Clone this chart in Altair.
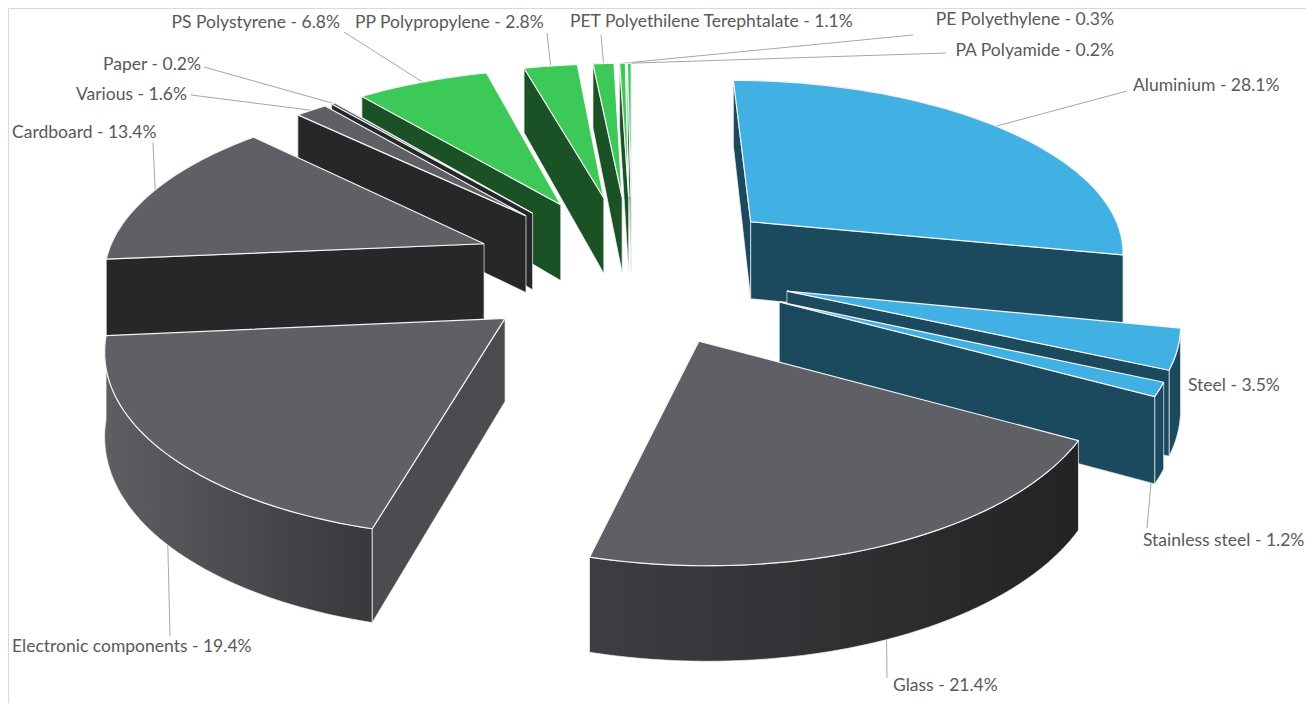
import math
import altair as alt
import pandas as pd

# ---------------- data ----------------
categories = [
    "Aluminium", "Steel", "Stainless steel", "Glass", "Electronic components",
    "Cardboard", "Various", "Paper", "PS Polystyrene", "PP Polypropylene",
    "PET Polyethilene Terephtalate", "PE Polyethylene", "PA Polyamide",
]
shares = [28.1, 3.5, 1.2, 21.4, 19.4, 13.4, 1.6, 0.2, 6.8, 2.8, 1.1, 0.3, 0.2]

# ---------------- styles ----------------
BLUE_TOP, BLUE_SIDE = "#41B0E3", "#1B4A5E"
GRAY_TOP = "#5F6065"
DARK_GRAY = "#262729"
GREEN_TOP, GREEN_SIDE = "#3DC958", "#1A5226"
EDGE = "#F4F4F4"


def grad(c0, c1):
    return alt.Gradient(gradient="linear", x1=0, x2=1, y1=0, y2=0,
                        stops=[alt.GradientStop(color=c0, offset=0),
                               alt.GradientStop(color=c1, offset=1)])


group = {
    "Aluminium": "blue", "Steel": "blue", "Stainless steel": "blue",
    "Glass": "gray", "Electronic components": "gray", "Cardboard": "gray",
    "Various": "gray", "Paper": "gray",
    "PS Polystyrene": "green", "PP Polypropylene": "green",
    "PET Polyethilene Terephtalate": "green", "PE Polyethylene": "green",
    "PA Polyamide": "green",
}
top_color = {"blue": BLUE_TOP, "gray": GRAY_TOP, "green": GREEN_TOP}
band_color = {"blue": BLUE_SIDE, "gray": DARK_GRAY, "green": GREEN_SIDE}
wall_color = {"blue": BLUE_SIDE, "gray": DARK_GRAY, "green": GREEN_SIDE}
band_override = {
    "Glass": grad("#3E3E42", "#232326"),
    "Electronic components": grad("#5E5E63", "#38383C"),
}
wall_override = {"Electronic components": "#4B4B50", "Glass": "#2C2C2F"}

# label layout (annotation positions in the chart's coordinate space)
label_x = [1133, 1188, 1143, 893, 12, 12, 187, 201, 340, 355, 570, 1114, 1114]
label_y = [86, 386, 541, 686, 647, 133, 95, 65, 23, 23, 22, 20, 51]
label_align = ["left", "left", "left", "left", "left", "left", "right", "right",
               "right", "left", "left", "right", "right"]
leader_x = [1127, None, 1147, 887, 170, 153, 191, 204, 344, 547, 601, 913, 946]
leader_y = [91, None, 528, 678, 636, 143, 95, 67, 32, 33, 35, 35, 53]

# ---------------- projection parameters ----------------
CX, CY = 632, 268      # pie centre
A, B = 380, 180        # horizontal / vertical radius
P = 0.14               # perspective
E = 0.42               # explosion
DP = 80                # thickness
N = 48                 # arc resolution

df = pd.DataFrame({
    "cat": categories, "val": shares, "idx": list(range(len(categories))),
    "lx": label_x, "ly": label_y, "align": label_align,
    "ex": leader_x, "ey": leader_y,
})

XS = alt.Scale(domain=[8, 1306], nice=False, zero=False)
YS = alt.Scale(domain=[8, 703], nice=False, zero=False, reverse=True)


def PX(U, V):
    return f"({CX}+{A}*({U})*(1+{P}*({V})))"


def PY(V, h):
    return f"({CY}+({B}*({V})+{DP}*({h}))*(1+{P}*({V})))"


def base():
    return (
        alt.Chart(df)
        .transform_joinaggregate(total="sum(val)")
        .transform_window(cum="sum(val)", sort=[alt.SortField("idx")], frame=[None, 0])
        .transform_calculate(
            a0="2*PI*(datum.cum-datum.val)/datum.total",
            a1="2*PI*datum.cum/datum.total",
        )
        .transform_calculate(mid="(datum.a0+datum.a1)/2")
        .transform_calculate(eu=f"{E}*sin(datum.mid)", ev=f"-{E}*cos(datum.mid)")
    )


def enc(ch, extra=None):
    e = dict(
        x=alt.X("px:Q", scale=XS, axis=None),
        y=alt.Y("py:Q", scale=YS, axis=None),
        order=alt.Order("j:Q"),
    )
    if extra:
        e.update(extra)
    return ch.encode(**e)


def project(ch, h="0"):
    return (
        ch.transform_calculate(U="datum.eu+datum.r*sin(datum.a)",
                               V="datum.ev-datum.r*cos(datum.a)")
        .transform_calculate(px=PX("datum.U", "datum.V"), py=PY("datum.V", h))
    )


def top_layer(s):
    ch = (
        base().transform_filter(alt.datum.cat == s)
        .transform_calculate(j=f"sequence(0,{N + 3})")
        .transform_flatten(["j"])
        .transform_calculate(
            r=f"(datum.j==0||datum.j=={N + 2})?0:1",
            a=f"datum.a0+(datum.a1-datum.a0)*clamp(datum.j-1,0,{N})/{N}",
        )
    )
    ch = project(ch).mark_line(fill=top_color[group[s]], stroke=EDGE, strokeWidth=1.2,
                               strokeJoin="round", interpolate="linear")
    return enc(ch)


def band_layer(s):
    ch = (
        base().transform_filter(alt.datum.cat == s)
        .transform_calculate(j=f"sequence(0,{2 * N + 3})")
        .transform_flatten(["j"])
        .transform_calculate(
            r="1",
            a=(f"datum.j<={N}?datum.a0+(datum.a1-datum.a0)*datum.j/{N}:"
               f"(datum.j<={2 * N + 1}?datum.a0+(datum.a1-datum.a0)*({2 * N + 1}-datum.j)/{N}:datum.a0)"),
            h=f"(datum.j>{N}&&datum.j<={2 * N + 1})?1:0",
        )
    )
    fill = band_override.get(s, band_color[group[s]])
    ch = project(ch, "datum.h").mark_line(fill=fill, stroke=EDGE, strokeWidth=0.7,
                                          strokeJoin="round", interpolate="linear")
    return enc(ch)


def wall_layer(s):
    # a radial wall is drawn when it faces the viewer (screen-space test)
    p0x, p0y = PX("datum.eu", "datum.ev"), PY("datum.ev", "0")
    pmx = PX("datum.eu+sin(datum.mid)", "datum.ev-cos(datum.mid)")
    pmy = PY("datum.ev-cos(datum.mid)", "0")

    def vis(w):
        p1x = PX(f"datum.eu+sin({w})", f"datum.ev-cos({w})")
        p1y = PY(f"datum.ev-cos({w})", "0")
        ex = f"({p1x}-{p0x})"
        ey = f"({p1y}-{p0y})"
        return f"{ex}*({ex}*({pmy}-{p0y})-{ey}*({pmx}-{p0x}))<0"

    ch = (
        base().transform_filter(alt.datum.cat == s)
        .transform_calculate(vis0=vis("datum.a0"), vis1=vis("datum.a1"))
        .transform_calculate(k="sequence(0,10)")
        .transform_flatten(["k"])
        .transform_calculate(piece="floor(datum.k/5)", j="datum.k%5")
        .transform_filter("(datum.piece==0&&datum.vis0)||(datum.piece==1&&datum.vis1)")
        .transform_calculate(
            a="datum.piece==0?datum.a0:datum.a1",
            r="(datum.j==1||datum.j==2)?1:0",
            h="(datum.j==2||datum.j==3)?1:0",
        )
    )
    fill = wall_override.get(s, wall_color[group[s]])
    ch = project(ch, "datum.h").mark_line(fill=fill, stroke=EDGE, strokeWidth=0.7,
                                          strokeJoin="round", interpolate="linear")
    return enc(ch, {"detail": alt.Detail("piece:N")})


# leader lines (drawn first, under the pie)
leaders = (
    base().transform_filter("isValid(datum.ex)")
    .transform_calculate(U=f"(1+{E})*sin(datum.mid)", V=f"-(1+{E})*cos(datum.mid)")
    .transform_calculate(px=PX("datum.U", "datum.V"), py=PY("datum.V", "0"))
    .mark_rule(color="#A6A6A6", strokeWidth=1)
    .encode(
        x=alt.X("px:Q", scale=XS, axis=None),
        y=alt.Y("py:Q", scale=YS, axis=None),
        x2="ex:Q", y2="ey:Q",
    )
)


def label_layer(al):
    return (
        base().transform_filter(alt.datum.align == al)
        .transform_calculate(label="datum.cat+' - '+format(datum.val,'.1f')+'%'")
        .mark_text(align=al, baseline="middle", font="Lato", fontSize=17.5,
                   color="#595959")
        .encode(
            x=alt.X("lx:Q", scale=XS, axis=None),
            y=alt.Y("ly:Q", scale=YS, axis=None),
            text="label:N",
        )
    )


# painter's order: back slices first
cum = 0.0
keys = []
tot = sum(shares)
for i, v in enumerate(shares):
    mid = 2 * math.pi * (cum + v / 2) / tot
    keys.append((-math.cos(mid), i))
    cum += v
order = [i for _, i in sorted(keys)]

layers = [leaders]
for i in order:
    s = categories[i]
    layers.append(band_layer(s))
    layers.append(wall_layer(s))
    layers.append(top_layer(s))
layers.append(label_layer("left"))
layers.append(label_layer("right"))

chart = (
    alt.layer(*layers)
    .properties(width=1298, height=695,
                autosize=alt.AutoSizeParams(type="none"), padding=0)
    .configure_view(stroke="#D9D9D9", strokeWidth=1)
)

chart.save("out.html", embed_options={"renderer": "svg", "actions": False})
